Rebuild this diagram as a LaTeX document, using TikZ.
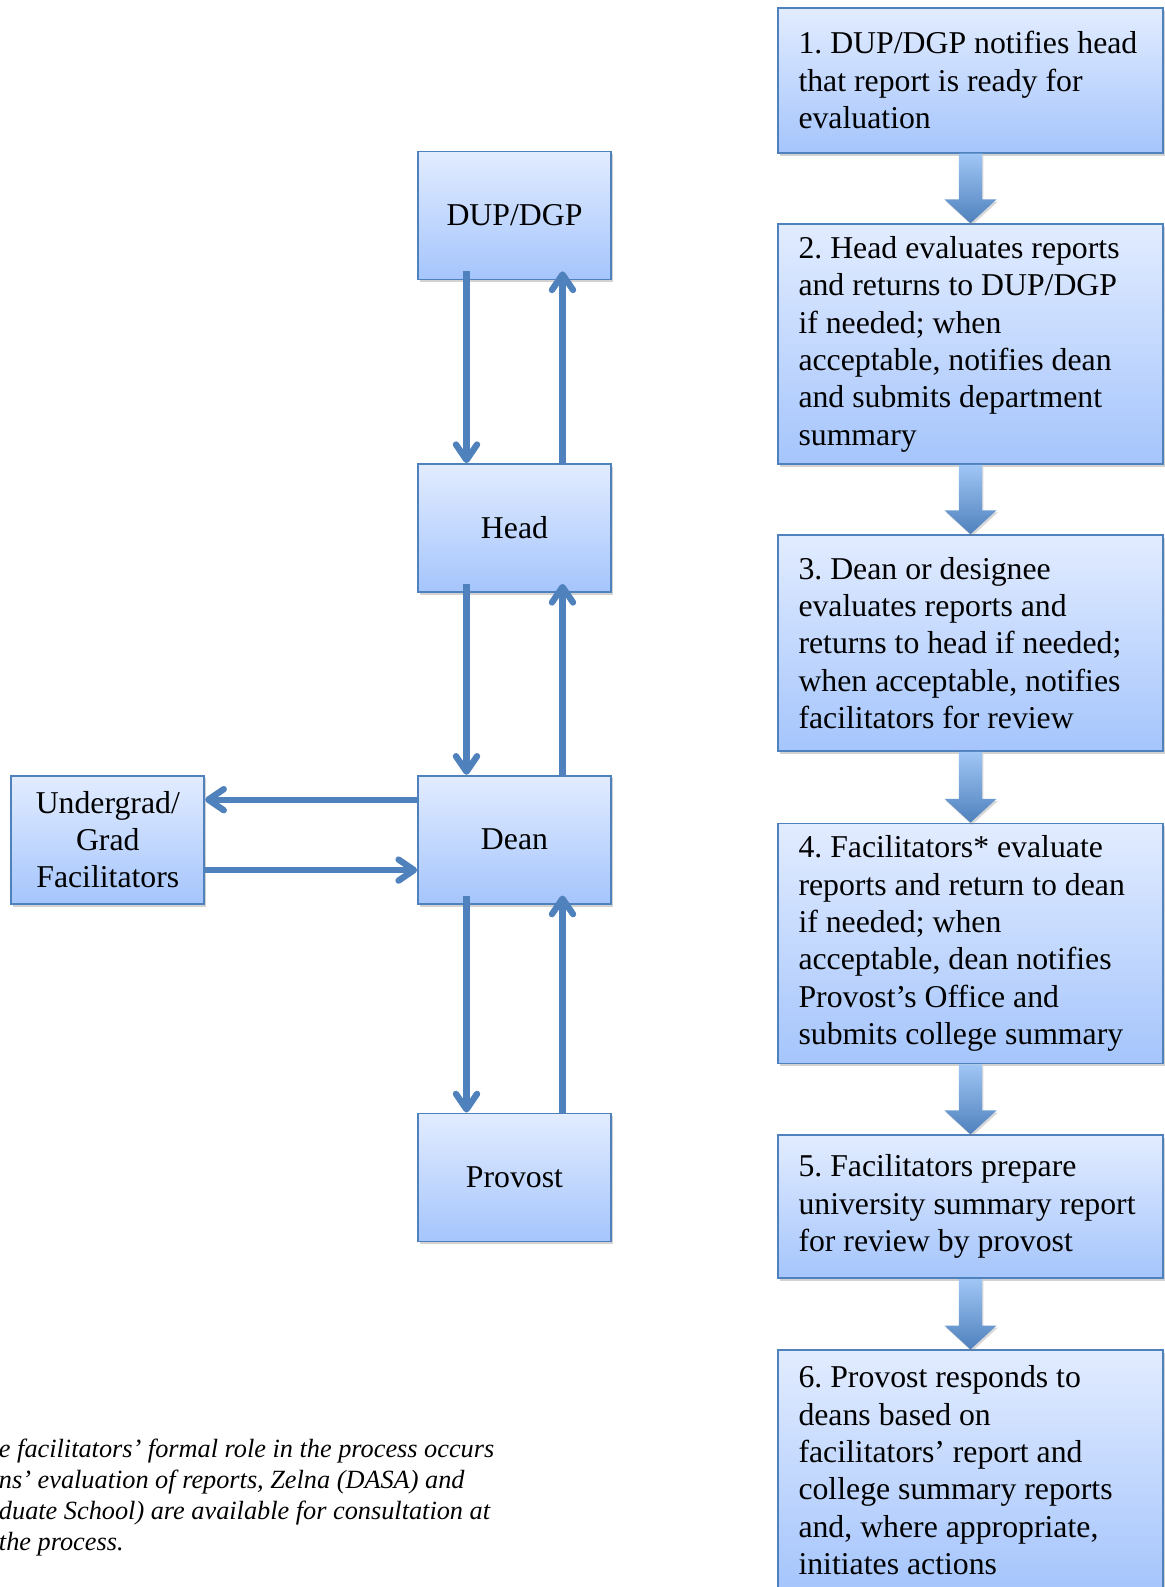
\documentclass[tikz,border=0pt]{standalone}
\usepackage{fontspec}
\setmainfont{Liberation Serif}
\usetikzlibrary{positioning,calc,arrows.meta,shadows}
\definecolor{boxtop}{RGB}{226,236,255}
\definecolor{boxbot}{RGB}{165,197,252}
\definecolor{edge}{RGB}{79,129,189}
\definecolor{arrtop}{RGB}{160,198,245}
\definecolor{arrbot}{RGB}{79,129,189}
\tikzset{
  rolebox/.style={draw=edge, line width=1.2pt, top color=boxtop, bottom color=boxbot,
    drop shadow={shadow xshift=1.5pt, shadow yshift=-2pt, opacity=0.35},
    minimum width=4.825cm, minimum height=3.2cm, align=center, inner sep=2pt,
    font=\fontsize{22.6}{26.6}\selectfont},
  stepbox/.style={rolebox, minimum width=9.625cm, text width=8.6cm, inner xsep=0.5cm, align=flush left},
  flow/.style={draw=edge, line width=4.5pt, -{Straight Barb[length=11pt,width=15pt,round]}},
  bigarrow/.style={top color=arrtop, bottom color=arrbot,
    drop shadow={shadow xshift=1pt, shadow yshift=-1.5pt, opacity=0.3}}
}
\frenchspacing
\begin{document}
\begin{tikzpicture}[x=1cm,y=-1cm]
  \useasboundingbox (0,0) rectangle (29.125,39.675);
  \fill[white] (0,0) rectangle (29.125,39.675);
  \clip (0,0) rectangle (29.125,39.675);

  % who does what
  \node[rolebox] (dup) at (12.8625,5.3875) {DUP/DGP};
  \node[rolebox, below=4.57cm of dup] (head) {Head};
  \node[rolebox, below=4.55cm of head] (dean) {Dean};
  \node[rolebox, below=5.2cm of dean] (provost) {Provost};
  \node[rolebox, left=5.3cm of dean] (fac) {Undergrad/\\Grad\\Facilitators};

  \foreach \a/\b in {dup/head, head/dean, dean/provost} {
    \draw[flow] ($(\a.south)+(-1.2,-0.225)$) -- ($(\b.north)+(-1.2,0)$);
    \draw[flow] ($(\b.north)+(1.2,0)$) -- ($(\a.south)+(1.2,-0.225)$);
  }
  \draw[flow] ($(dean.west)+(0,-1)$) -- ($(fac.east)+(0,-1)$);
  \draw[flow] ($(fac.east)+(0,0.76)$) -- ($(dean.west)+(0,0.76)$);

  % steps
  \node[stepbox, minimum height=3.625cm, anchor=north] (s1) at (24.2625,0.175)
    {1. DUP/DGP notifies head\\that report is ready for\\evaluation};
  \node[stepbox, minimum height=6cm, below=1.74cm of s1] (s2)
    {2. Head evaluates reports\\and returns to DUP/DGP\\if needed; when\\acceptable, notifies dean\\and submits department\\summary};
  \node[stepbox, minimum height=5.4cm, below=1.73cm of s2] (s3)
    {3. Dean or designee\\evaluates reports and\\returns to head if needed;\\when acceptable, notifies\\facilitators for review};
  \node[stepbox, minimum height=6cm, below=1.77cm of s3] (s4)
    {4. Facilitators* evaluate\\reports and return to dean\\if needed; when\\acceptable, dean notifies\\Provost’s Office and\\submits college summary};
  \node[stepbox, minimum height=3.575cm, below=1.75cm of s4] (s5)
    {5. Facilitators prepare\\university summary report\\for review by provost};
  \node[stepbox, minimum height=6cm, below=1.76cm of s5] (s6)
    {6. Provost responds to\\deans based on\\facilitators’ report and\\college summary reports\\and, where appropriate,\\initiates actions};

  \foreach \a/\b in {s1/s2, s2/s3, s3/s4, s4/s5, s5/s6}
    \path[bigarrow] let \p1=(\a.south), \p2=(\b.north) in
      (\x1-8.2pt,\y1) -- (\x1+8.2pt,\y1) -- (\x1+8.2pt,\y2+17pt) -- (\x1+18.5pt,\y2+17pt)
      -- (\x1,\y2) -- (\x1-18.5pt,\y2+17pt) -- (\x1-8.2pt,\y2+17pt) -- cycle;

  \node[anchor=base west, align=left, font=\itshape\fontsize{18.7}{22.1}\selectfont] (note) at (-0.15,38.76)
    {e facilitators’ formal role in the process occurs\\ns’ evaluation of reports, Zelna (DASA) and\\duate School) are available for consultation at\\the process.};
\end{tikzpicture}
\end{document}
